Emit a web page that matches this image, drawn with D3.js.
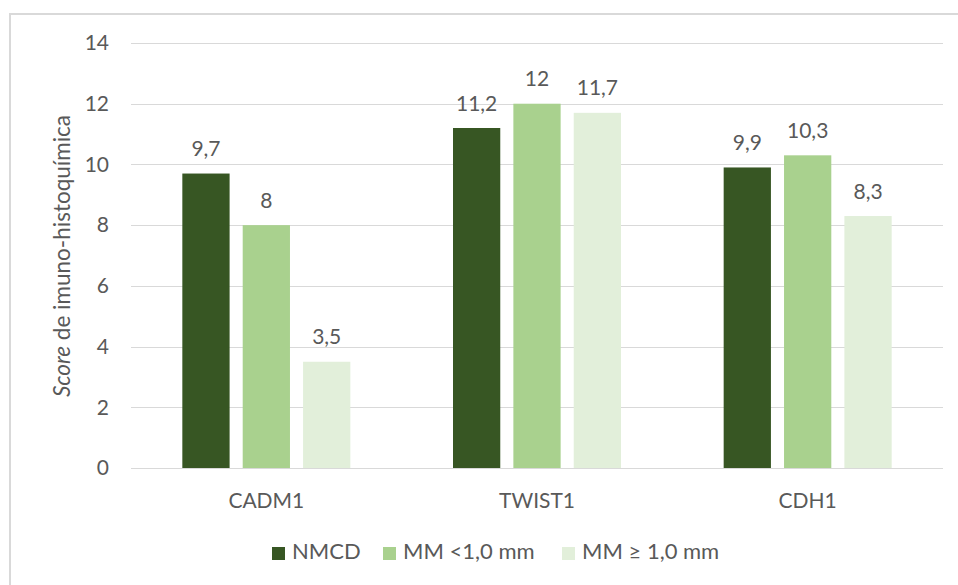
<!DOCTYPE html>
<html>
<head>
<meta charset="utf-8">
<script src="https://cdn.jsdelivr.net/npm/d3@7"></script>
<style>
  html, body { margin: 0; padding: 0; background: #fff; }
  svg { display: block; font-family: Lato, "Open Sans", "Liberation Sans", sans-serif; }
</style>
</head>
<body>
<svg id="chart" width="958" height="585"></svg>
<script>
// Immunohistochemistry scores per marker and group
const categories = ["CADM1", "TWIST1", "CDH1"];
const seriesNames = ["NMCD", "MM <1,0 mm", "MM \u2265 1,0 mm"];
const nmcd = [9.7, 11.2, 9.9];
const mmLess1 = [8, 12, 10.3];
const mmGe1 = [3.5, 11.7, 8.3];
const yTicks = [0, 2, 4, 6, 8, 10, 12, 14];
const colors = ["#375623", "#a9d18e", "#e2efda"];

const seriesValues = [nmcd, mmLess1, mmGe1];
const fmt = v => String(v).replace(".", ",");

const svg = d3.select("#chart");
const textColor = "#595959";
const gridColor = "#d9d9d9";

// chart frame
svg.append("rect")
  .attr("x", 10).attr("y", 14)
  .attr("width", 960).attr("height", 600)
  .attr("fill", "none").attr("stroke", "#d9d9d9").attr("stroke-width", 2);

const plotLeft = 131, plotRight = 943, plotTop = 43, plotBottom = 468;

const y = d3.scaleLinear().domain([0, 14]).range([plotBottom, plotTop]);
const x0 = d3.scaleBand().domain(categories).range([plotLeft, plotRight]).padding(0);
const bw = x0.bandwidth();
const x1 = d3.scaleBand().domain(d3.range(seriesNames.length))
  .range([bw / 2 - 84, bw / 2 + 84]).paddingInner(0.217).paddingOuter(0);

// gridlines
svg.append("g").selectAll("line").data(yTicks).join("line")
  .attr("x1", plotLeft).attr("x2", plotRight)
  .attr("y1", d => Math.round(y(d)) + 0.5).attr("y2", d => Math.round(y(d)) + 0.5)
  .attr("stroke", gridColor).attr("stroke-width", 1);

// y tick labels
svg.append("g").selectAll("text").data(yTicks).join("text")
  .attr("x", 109).attr("y", d => y(d))
  .attr("dy", "0.35em")
  .attr("text-anchor", "end")
  .attr("font-size", 21).attr("fill", textColor)
  .text(d => d);

// bars
const groups = svg.append("g").selectAll("g").data(categories).join("g")
  .attr("transform", c => `translate(${x0(c)},0)`);

groups.each(function(c, ci) {
  const g = d3.select(this);
  const data = seriesValues.map((vals, si) => ({ si, v: vals[ci] }));
  g.selectAll("rect").data(data).join("rect")
    .attr("x", d => x1(d.si))
    .attr("y", d => y(d.v))
    .attr("width", x1.bandwidth())
    .attr("height", d => y(0) - y(d.v))
    .attr("fill", d => colors[d.si]);
  g.selectAll("text").data(data).join("text")
    .attr("x", d => x1(d.si) + x1.bandwidth() / 2)
    .attr("y", d => y(d.v) - 17.5)
    .attr("text-anchor", "middle")
    .attr("font-size", 21).attr("fill", textColor)
    .text(d => fmt(d.v));
});

// category labels
svg.append("g").selectAll("text").data(categories).join("text")
  .attr("x", c => x0(c) + bw / 2)
  .attr("y", 508)
  .attr("text-anchor", "middle")
  .attr("font-size", 21).attr("fill", textColor)
  .text(c => c);

// y-axis title
const title = svg.append("text")
  .attr("transform", "translate(70,256) rotate(-90)")
  .attr("text-anchor", "middle")
  .attr("font-size", 22.5).attr("fill", textColor);
title.append("tspan").attr("font-style", "italic").text("Score");
title.append("tspan").text(" de imuno-histoquímica");

// legend
const legendX = [272, 383, 562];
const legend = svg.append("g").selectAll("g").data(seriesNames).join("g")
  .attr("transform", (d, i) => `translate(${legendX[i]},547)`);
legend.append("rect")
  .attr("width", 13).attr("height", 13)
  .attr("fill", (d, i) => colors[i]);
legend.append("text")
  .attr("x", 20).attr("y", 12)
  .attr("font-size", 22).attr("fill", textColor)
  .text(d => d);
</script>
</body>
</html>
